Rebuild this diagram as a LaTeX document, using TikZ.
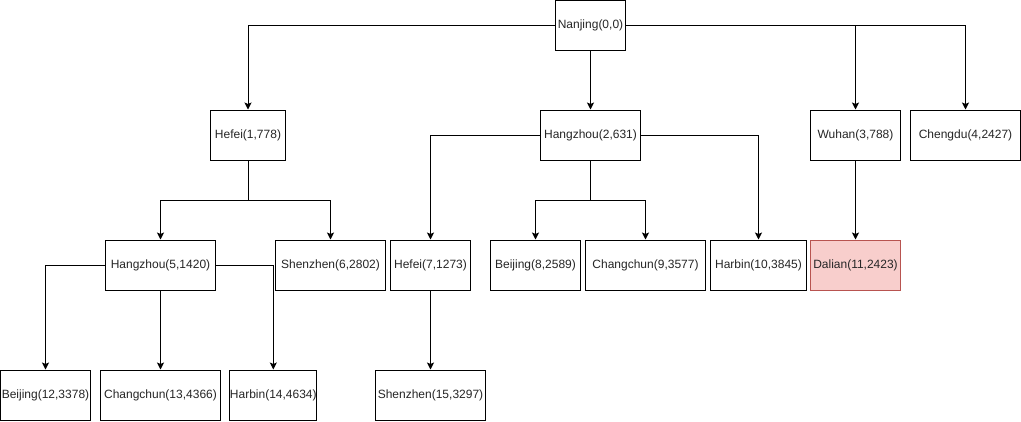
\documentclass[tikz,border=0pt]{standalone}
\usepackage{fontspec}
\setmainfont{Liberation Sans}
\usetikzlibrary{arrows.meta}
\begin{document}
\begin{tikzpicture}[x=1pt,y=-1pt,
  box/.style={draw=black,line width=1pt,fill=white,minimum height=50pt,inner sep=0pt,
    font=\fontsize{12}{14}\selectfont,text=black!85},
  hot/.style={box,draw={rgb,255:red,184;green,84;blue,80},fill={rgb,255:red,248;green,206;blue,204}},
  link/.style={line width=1pt,-{Stealth[length=7pt,width=7pt,inset=1.5pt]}}]
\useasboundingbox (0,0) rectangle (1021,421);
% row 0
\node[box,minimum width=70pt] (nj) at (590.5,25) {Nanjing(0,0)};
% row 1
\node[box,minimum width=75pt] (hf1) at (248,135) {Hefei(1,778)};
\node[box,minimum width=100pt] (hz2) at (590.5,135) {Hangzhou(2,631)};
\node[box,minimum width=90pt] (wh) at (855.5,135) {Wuhan(3,788)};
\node[box,minimum width=110pt] (cd) at (965.5,135) {Chengdu(4,2427)};
% row 2
\node[box,minimum width=110pt] (hz5) at (160.5,265) {Hangzhou(5,1420)};
\node[box,minimum width=110pt] (sz6) at (330.5,265) {Shenzhen(6,2802)};
\node[box,minimum width=80pt] (hf7) at (430.5,265) {Hefei(7,1273)};
\node[box,minimum width=90pt] (bj8) at (535.5,265) {Beijing(8,2589)};
\node[box,minimum width=120pt] (cc9) at (645.5,265) {Changchun(9,3577)};
\node[box,minimum width=96pt] (hb10) at (758.5,265) {Harbin(10,3845)};
\node[hot,minimum width=90pt] (dl11) at (855.5,265) {Dalian(11,2423)};
% row 3
\node[box,minimum width=90pt] (bj12) at (45.5,395) {Beijing(12,3378)};
\node[box,minimum width=120pt] (cc13) at (160.5,395) {Changchun(13,4366)};
\node[box,minimum width=86pt] (hb14) at (273.3,395) {Harbin(14,4634)};
\node[box,minimum width=110pt] (sz15) at (430.5,395) {Shenzhen(15,3297)};
% junctions
\coordinate (j1) at (248,200);
\coordinate (j2) at (590.5,200);
% connectors
\draw[link] (nj.west) -| (hf1.north);
\draw[link] (nj.south) -- (hz2.north);
\draw[link] (nj.east) -| (wh.north);
\draw[link] (nj.east) -| (cd.north);
\draw[link] (hf1.south) -- (j1) -| (hz5.north);
\draw[link] (hf1.south) -- (j1) -| (sz6.north);
\draw[link] (hz2.west) -| (hf7.north);
\draw[link] (hz2.south) -- (j2) -| (bj8.north);
\draw[link] (hz2.south) -- (j2) -| (cc9.north);
\draw[link] (hz2.east) -| (hb10.north);
\draw[link] (wh.south) -- (dl11.north);
\draw[link] (hz5.west) -| (bj12.north);
\draw[link] (hz5.south) -- (cc13.north);
\draw[link] (hz5.east) -| (hb14.north);
\draw[link] (hf7.south) -- (sz15.north);
\end{tikzpicture}
\end{document}
